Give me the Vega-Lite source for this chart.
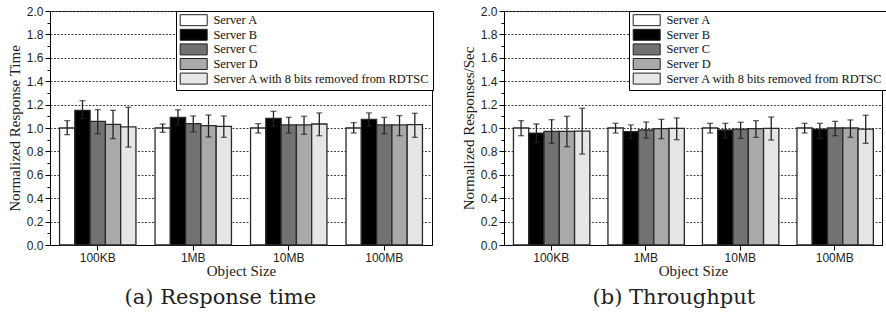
{
  "$schema": "https://vega.github.io/schema/vega-lite/v6.json",
  "padding": {"left": 6, "top": 4, "right": 0, "bottom": 0},
  "background": "white",
  "datasets": {
    "rt": [
      {"size": "100KB", "series": "Server A", "value": 1.0, "lo": 0.943, "hi": 1.063},
      {"size": "100KB", "series": "Server B", "value": 1.15, "lo": 1.08, "hi": 1.234},
      {"size": "100KB", "series": "Server C", "value": 1.057, "lo": 0.951, "hi": 1.157},
      {"size": "100KB", "series": "Server D", "value": 1.031, "lo": 0.909, "hi": 1.151},
      {"size": "100KB", "series": "Server A with 8 bits removed from RDTSC", "value": 1.009, "lo": 0.837, "hi": 1.177},
      {"size": "1MB", "series": "Server A", "value": 1.0, "lo": 0.963, "hi": 1.034},
      {"size": "1MB", "series": "Server B", "value": 1.09, "lo": 1.027, "hi": 1.155},
      {"size": "1MB", "series": "Server C", "value": 1.037, "lo": 0.966, "hi": 1.103},
      {"size": "1MB", "series": "Server D", "value": 1.02, "lo": 0.923, "hi": 1.111},
      {"size": "1MB", "series": "Server A with 8 bits removed from RDTSC", "value": 1.014, "lo": 0.92, "hi": 1.103},
      {"size": "10MB", "series": "Server A", "value": 1.0, "lo": 0.957, "hi": 1.037},
      {"size": "10MB", "series": "Server B", "value": 1.083, "lo": 1.017, "hi": 1.143},
      {"size": "10MB", "series": "Server C", "value": 1.026, "lo": 0.957, "hi": 1.091},
      {"size": "10MB", "series": "Server D", "value": 1.026, "lo": 0.946, "hi": 1.1},
      {"size": "10MB", "series": "Server A with 8 bits removed from RDTSC", "value": 1.034, "lo": 0.934, "hi": 1.129},
      {"size": "100MB", "series": "Server A", "value": 1.0, "lo": 0.957, "hi": 1.046},
      {"size": "100MB", "series": "Server B", "value": 1.074, "lo": 1.014, "hi": 1.129},
      {"size": "100MB", "series": "Server C", "value": 1.026, "lo": 0.951, "hi": 1.091},
      {"size": "100MB", "series": "Server D", "value": 1.026, "lo": 0.934, "hi": 1.106},
      {"size": "100MB", "series": "Server A with 8 bits removed from RDTSC", "value": 1.029, "lo": 0.92, "hi": 1.126}
    ],
    "tp": [
      {"size": "100KB", "series": "Server A", "value": 1.0, "lo": 0.934, "hi": 1.063},
      {"size": "100KB", "series": "Server B", "value": 0.957, "lo": 0.877, "hi": 1.034},
      {"size": "100KB", "series": "Server C", "value": 0.971, "lo": 0.869, "hi": 1.071},
      {"size": "100KB", "series": "Server D", "value": 0.971, "lo": 0.84, "hi": 1.1},
      {"size": "100KB", "series": "Server A with 8 bits removed from RDTSC", "value": 0.974, "lo": 0.777, "hi": 1.169},
      {"size": "1MB", "series": "Server A", "value": 1.0, "lo": 0.957, "hi": 1.04},
      {"size": "1MB", "series": "Server B", "value": 0.969, "lo": 0.911, "hi": 1.026},
      {"size": "1MB", "series": "Server C", "value": 0.983, "lo": 0.914, "hi": 1.051},
      {"size": "1MB", "series": "Server D", "value": 0.994, "lo": 0.909, "hi": 1.074},
      {"size": "1MB", "series": "Server A with 8 bits removed from RDTSC", "value": 0.997, "lo": 0.9, "hi": 1.086},
      {"size": "10MB", "series": "Server A", "value": 1.0, "lo": 0.957, "hi": 1.04},
      {"size": "10MB", "series": "Server B", "value": 0.983, "lo": 0.914, "hi": 1.04},
      {"size": "10MB", "series": "Server C", "value": 0.991, "lo": 0.911, "hi": 1.049},
      {"size": "10MB", "series": "Server D", "value": 0.994, "lo": 0.92, "hi": 1.063},
      {"size": "10MB", "series": "Server A with 8 bits removed from RDTSC", "value": 0.997, "lo": 0.897, "hi": 1.094},
      {"size": "100MB", "series": "Server A", "value": 1.0, "lo": 0.957, "hi": 1.04},
      {"size": "100MB", "series": "Server B", "value": 0.991, "lo": 0.911, "hi": 1.04},
      {"size": "100MB", "series": "Server C", "value": 1.0, "lo": 0.934, "hi": 1.057},
      {"size": "100MB", "series": "Server D", "value": 1.0, "lo": 0.92, "hi": 1.069},
      {"size": "100MB", "series": "Server A with 8 bits removed from RDTSC", "value": 0.991, "lo": 0.869, "hi": 1.109}
    ]
  },
  "hconcat": [
    {
      "width": 382,
      "height": 234,
      "data": {"name": "rt"},
      "title": {"text": "(a) Response time", "orient": "bottom", "frame": "bounds", "anchor": "middle", "font": "DejaVu Serif", "fontSize": 21, "fontWeight": "normal", "color": "#222", "offset": 9},
      "encoding": {
        "x": {"field": "size", "type": "nominal", "sort": ["100KB", "1MB", "10MB", "100MB"], "scale": {"paddingInner": 0.2, "paddingOuter": 0.1}, "axis": {"title": "Object Size", "labelAngle": 0, "tickSize": 5, "labelPadding": 2, "titlePadding": 0}},
        "xOffset": {"field": "series", "type": "nominal", "sort": ["Server A", "Server B", "Server C", "Server D", "Server A with 8 bits removed from RDTSC"], "scale": {"paddingInner": 0, "paddingOuter": 0}}
      },
      "layer": [
        {
          "mark": {"type": "bar", "stroke": "#2a2a2a", "strokeWidth": 1.3},
          "encoding": {
            "y": {"field": "value", "type": "quantitative", "scale": {"domain": [0, 2], "nice": false}, "title": "Normalized Response Time",
              "axis": {"values": [0, 0.1, 0.2, 0.3, 0.4, 0.5, 0.6, 0.7, 0.8, 0.9, 1.0, 1.1, 1.2, 1.3, 1.4, 1.5, 1.6, 1.7, 1.8, 1.9, 2.0],
                "labelExpr": "round(datum.value*10)%2==0 ? format(datum.value,'.1f') : ''",
                "tickSize": {"condition": {"test": "round(datum.value*10)%2==0", "value": 5}, "value": 3},
                "grid": true,
                "gridOpacity": {"condition": {"test": "round(datum.value*10)%2==0", "value": 1}, "value": 0},
                "gridDash": [2, 1.5], "gridColor": "#444", "gridWidth": 1, "labelPadding": 2, "titlePadding": 4, "labelOverlap": false}},
            "color": {"field": "series", "type": "nominal", "sort": ["Server A", "Server B", "Server C", "Server D", "Server A with 8 bits removed from RDTSC"],
              "scale": {"domain": ["Server A", "Server B", "Server C", "Server D", "Server A with 8 bits removed from RDTSC"], "range": ["#ffffff", "#000000", "#727272", "#a9a9a9", "#e6e6e6"]},
              "legend": {"orient": "none", "legendX": 126, "legendY": 0, "rowPadding": -1.4}}
          }
        },
        {
          "mark": {"type": "rule", "color": "#222", "strokeWidth": 1.3},
          "encoding": {"y": {"field": "lo", "type": "quantitative", "title": "Normalized Response Time",
              "axis": {"values": [0, 0.1, 0.2, 0.3, 0.4, 0.5, 0.6, 0.7, 0.8, 0.9, 1.0, 1.1, 1.2, 1.3, 1.4, 1.5, 1.6, 1.7, 1.8, 1.9, 2.0],
                "labelExpr": "round(datum.value*10)%2==0 ? format(datum.value,'.1f') : ''",
                "tickSize": {"condition": {"test": "round(datum.value*10)%2==0", "value": 5}, "value": 3},
                "grid": true,
                "gridOpacity": {"condition": {"test": "round(datum.value*10)%2==0", "value": 1}, "value": 0},
                "gridDash": [2, 1.5], "gridColor": "#444", "gridWidth": 1, "labelPadding": 2, "titlePadding": 4, "labelOverlap": false}}, "y2": {"field": "hi"}}
        },
        {
          "mark": {"type": "tick", "color": "#222", "thickness": 1.3, "size": 6},
          "encoding": {"y": {"field": "lo", "type": "quantitative", "title": "Normalized Response Time",
              "axis": {"values": [0, 0.1, 0.2, 0.3, 0.4, 0.5, 0.6, 0.7, 0.8, 0.9, 1.0, 1.1, 1.2, 1.3, 1.4, 1.5, 1.6, 1.7, 1.8, 1.9, 2.0],
                "labelExpr": "round(datum.value*10)%2==0 ? format(datum.value,'.1f') : ''",
                "tickSize": {"condition": {"test": "round(datum.value*10)%2==0", "value": 5}, "value": 3},
                "grid": true,
                "gridOpacity": {"condition": {"test": "round(datum.value*10)%2==0", "value": 1}, "value": 0},
                "gridDash": [2, 1.5], "gridColor": "#444", "gridWidth": 1, "labelPadding": 2, "titlePadding": 4, "labelOverlap": false}}}
        },
        {
          "mark": {"type": "tick", "color": "#222", "thickness": 1.3, "size": 6},
          "encoding": {"y": {"field": "hi", "type": "quantitative", "title": "Normalized Response Time",
              "axis": {"values": [0, 0.1, 0.2, 0.3, 0.4, 0.5, 0.6, 0.7, 0.8, 0.9, 1.0, 1.1, 1.2, 1.3, 1.4, 1.5, 1.6, 1.7, 1.8, 1.9, 2.0],
                "labelExpr": "round(datum.value*10)%2==0 ? format(datum.value,'.1f') : ''",
                "tickSize": {"condition": {"test": "round(datum.value*10)%2==0", "value": 5}, "value": 3},
                "grid": true,
                "gridOpacity": {"condition": {"test": "round(datum.value*10)%2==0", "value": 1}, "value": 0},
                "gridDash": [2, 1.5], "gridColor": "#444", "gridWidth": 1, "labelPadding": 2, "titlePadding": 4, "labelOverlap": false}}}
        }
      ]
    },
    {
      "width": 378,
      "height": 234,
      "data": {"name": "tp"},
      "title": {"text": "(b) Throughput", "orient": "bottom", "frame": "bounds", "anchor": "middle", "font": "DejaVu Serif", "fontSize": 21, "fontWeight": "normal", "color": "#222", "offset": 9},
      "encoding": {
        "x": {"field": "size", "type": "nominal", "sort": ["100KB", "1MB", "10MB", "100MB"], "scale": {"paddingInner": 0.2, "paddingOuter": 0.1}, "axis": {"title": "Object Size", "labelAngle": 0, "tickSize": 5, "labelPadding": 2, "titlePadding": 0}},
        "xOffset": {"field": "series", "type": "nominal", "sort": ["Server A", "Server B", "Server C", "Server D", "Server A with 8 bits removed from RDTSC"], "scale": {"paddingInner": 0, "paddingOuter": 0}}
      },
      "layer": [
        {
          "mark": {"type": "bar", "stroke": "#2a2a2a", "strokeWidth": 1.3},
          "encoding": {
            "y": {"field": "value", "type": "quantitative", "scale": {"domain": [0, 2], "nice": false}, "title": "Normalized Responses/Sec",
              "axis": {"values": [0, 0.1, 0.2, 0.3, 0.4, 0.5, 0.6, 0.7, 0.8, 0.9, 1.0, 1.1, 1.2, 1.3, 1.4, 1.5, 1.6, 1.7, 1.8, 1.9, 2.0],
                "labelExpr": "round(datum.value*10)%2==0 ? format(datum.value,'.1f') : ''",
                "tickSize": {"condition": {"test": "round(datum.value*10)%2==0", "value": 5}, "value": 3},
                "grid": true,
                "gridOpacity": {"condition": {"test": "round(datum.value*10)%2==0", "value": 1}, "value": 0},
                "gridDash": [2, 1.5], "gridColor": "#444", "gridWidth": 1, "labelPadding": 2, "titlePadding": 4, "labelOverlap": false}},
            "color": {"field": "series", "type": "nominal", "sort": ["Server A", "Server B", "Server C", "Server D", "Server A with 8 bits removed from RDTSC"],
              "scale": {"domain": ["Server A", "Server B", "Server C", "Server D", "Server A with 8 bits removed from RDTSC"], "range": ["#ffffff", "#000000", "#727272", "#a9a9a9", "#e6e6e6"]},
              "legend": {"orient": "none", "legendX": 125, "legendY": 0, "rowPadding": -1.4}}
          }
        },
        {
          "mark": {"type": "rule", "color": "#222", "strokeWidth": 1.3},
          "encoding": {"y": {"field": "lo", "type": "quantitative", "title": "Normalized Responses/Sec",
              "axis": {"values": [0, 0.1, 0.2, 0.3, 0.4, 0.5, 0.6, 0.7, 0.8, 0.9, 1.0, 1.1, 1.2, 1.3, 1.4, 1.5, 1.6, 1.7, 1.8, 1.9, 2.0],
                "labelExpr": "round(datum.value*10)%2==0 ? format(datum.value,'.1f') : ''",
                "tickSize": {"condition": {"test": "round(datum.value*10)%2==0", "value": 5}, "value": 3},
                "grid": true,
                "gridOpacity": {"condition": {"test": "round(datum.value*10)%2==0", "value": 1}, "value": 0},
                "gridDash": [2, 1.5], "gridColor": "#444", "gridWidth": 1, "labelPadding": 2, "titlePadding": 4, "labelOverlap": false}}, "y2": {"field": "hi"}}
        },
        {
          "mark": {"type": "tick", "color": "#222", "thickness": 1.3, "size": 6},
          "encoding": {"y": {"field": "lo", "type": "quantitative", "title": "Normalized Responses/Sec",
              "axis": {"values": [0, 0.1, 0.2, 0.3, 0.4, 0.5, 0.6, 0.7, 0.8, 0.9, 1.0, 1.1, 1.2, 1.3, 1.4, 1.5, 1.6, 1.7, 1.8, 1.9, 2.0],
                "labelExpr": "round(datum.value*10)%2==0 ? format(datum.value,'.1f') : ''",
                "tickSize": {"condition": {"test": "round(datum.value*10)%2==0", "value": 5}, "value": 3},
                "grid": true,
                "gridOpacity": {"condition": {"test": "round(datum.value*10)%2==0", "value": 1}, "value": 0},
                "gridDash": [2, 1.5], "gridColor": "#444", "gridWidth": 1, "labelPadding": 2, "titlePadding": 4, "labelOverlap": false}}}
        },
        {
          "mark": {"type": "tick", "color": "#222", "thickness": 1.3, "size": 6},
          "encoding": {"y": {"field": "hi", "type": "quantitative", "title": "Normalized Responses/Sec",
              "axis": {"values": [0, 0.1, 0.2, 0.3, 0.4, 0.5, 0.6, 0.7, 0.8, 0.9, 1.0, 1.1, 1.2, 1.3, 1.4, 1.5, 1.6, 1.7, 1.8, 1.9, 2.0],
                "labelExpr": "round(datum.value*10)%2==0 ? format(datum.value,'.1f') : ''",
                "tickSize": {"condition": {"test": "round(datum.value*10)%2==0", "value": 5}, "value": 3},
                "grid": true,
                "gridOpacity": {"condition": {"test": "round(datum.value*10)%2==0", "value": 1}, "value": 0},
                "gridDash": [2, 1.5], "gridColor": "#444", "gridWidth": 1, "labelPadding": 2, "titlePadding": 4, "labelOverlap": false}}}
        }
      ]
    }
  ],
  "spacing": 26,
  "resolve": {"scale": {"color": "independent", "y": "independent", "x": "independent"}, "legend": {"color": "independent"}},
  "config": {
    "view": {"stroke": "#000", "strokeWidth": 1},
    "axis": {"labelFont": "Liberation Sans", "labelFontSize": 12, "labelColor": "#222", "titleFont": "Liberation Serif", "titleFontSize": 15, "titleFontWeight": "normal", "titleColor": "#222", "domainColor": "#000", "tickColor": "#000"},
    "legend": {"strokeColor": "#000", "fillColor": "#fff", "padding": 3, "symbolType": "M-1,-1.1L4.4,-1.1L4.4,1.1L-1,1.1Z", "symbolSize": 100, "symbolStrokeColor": "#222", "symbolStrokeWidth": 1, "symbolOpacity": 1, "labelFont": "Liberation Serif", "labelFontSize": 12.4, "labelColor": "#111", "title": null, "labelOffset": 22, "labelLimit": 0}
  }
}
